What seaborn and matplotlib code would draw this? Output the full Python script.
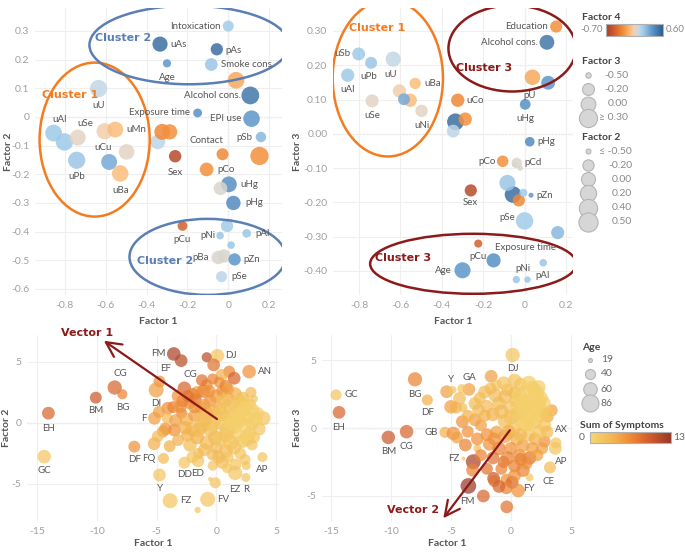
import pandas as pd
import seaborn as sns
import matplotlib.pyplot as plt
from matplotlib.colors import LinearSegmentedColormap
from matplotlib.patches import Ellipse, Rectangle
import numpy as np

# ---------------- data: factor loadings of the variables ----------------
var_names = ['Intoxication', 'uAs', 'pAs', 'Age', 'Smoke cons', 'pU', 'Alcohol cons.', 'Exposure time', 'EPI use', 'uU',
             'uAl', 'uSb', 'uSe', 'uCu', 'uMn', 'uCd', 'uCo', 'uZn', 'pSb', 'Contact',
             'uNi', 'uPb', 'uTl', 'Sex', 'pCo', 'uBa', 'uHg', 'pCd', 'pHg', 'pCu',
             'pMn', 'pNi', 'pAl', 'pSr', 'pBa', 'pTl', 'pZn', 'pSe', 'Education']
var_f1 = [0.0, -0.334, -0.056, -0.30, -0.083, 0.038, 0.108, -0.15, 0.114, -0.635,
          -0.855, -0.802, -0.737, -0.605, -0.553, -0.345, -0.323, -0.287, 0.16, -0.028,
          -0.498, -0.742, -0.583, -0.26, -0.106, -0.529, 0.003, -0.038, 0.025, -0.224,
          -0.006, -0.04, 0.09, 0.014, -0.049, -0.021, 0.031, -0.033, 0.153]
var_f2 = [0.317, 0.254, 0.236, 0.187, 0.183, 0.128, 0.075, 0.014, -0.006, 0.099,
          -0.056, -0.087, -0.072, -0.05, -0.044, -0.087, -0.052, -0.052, -0.07, -0.13,
          -0.122, -0.151, -0.157, -0.137, -0.183, -0.197, -0.235, -0.249, -0.30, -0.38,
          -0.38, -0.414, -0.406, -0.447, -0.49, -0.485, -0.497, -0.557, -0.136]
var_f3 = [-0.254, 0.035, -0.177, -0.398, -0.143, 0.165, 0.267, -0.369, 0.149, 0.218,
          0.171, 0.233, 0.096, 0.125, 0.098, 0.008, 0.098, 0.043, -0.288, -0.194,
          0.067, 0.207, 0.101, -0.165, -0.08, 0.147, 0.086, -0.085, -0.023, -0.32,
          -0.172, -0.425, -0.376, -0.425, -0.09, -0.10, -0.179, -0.25, 0.313]
var_f4 = [0.15, 0.52, 0.52, 0.35, 0.17, -0.22, 0.48, 0.38, 0.35, 0.06,
          0.16, 0.16, -0.02, -0.07, -0.15, 0.07, -0.33, -0.30, 0.22, -0.33,
          -0.02, 0.17, 0.28, -0.62, -0.30, -0.15, 0.38, 0.0, 0.40, -0.50,
          0.15, 0.17, 0.17, 0.17, 0.0, 0.0, 0.35, 0.08, -0.30]

# ---------------- data: patient scores, Factor 1 vs Factor 2 ----------------
bl_ids = ['GC', 'EH', 'BM', 'CG', 'BG', 'DF', 'F', 'FQ', 'Y', 'FZ', 'FV',
          'DD', 'ED', 'EZ', 'R', 'AP', 'AN', 'DJ', 'FM', 'EF', 'DI', 'CG']
bl_f1 = [-14.4, -14.05, -10.08, -8.5, -7.86, -6.86, -5.17, -4.42, -4.75, -3.86, -0.72,
         -2.67, -1.53, 1.58, 2.47, 3.86, 2.75, 0.1, -3.56, -4.75, -5.03, -2.67,
         -1.56, -0.8, -2.94, -0.22, 1.08, 1.5, 0.47, 0.25, 3.17, 3.94,
         2.4, 2.5, -0.08, -0.5, 1.6, -0.3, 0.5, -4.06, -3.6, -2.9,
         -3.0, -2.2, -1.6, -1.06, -0.8, -1.75, -1.3, -4.25, -4.45, -3.5,
         -5.2, -3.9, -4.9, -4.1, -2.5, -2.0, -1.8, -1.2, -0.8, -0.5,
         0.0, 0.5, 1.0, 1.5, 2.0, 2.5, 3.0, 2.8, 2.2, 1.5,
         0.8, 0.0, -0.8, -1.6, -2.4, 0.5, 1.0, 1.5, 2.0, 0.0,
         -0.5, 0.8, 1.8, 2.5, 1.2, 0.3, -0.2, 3.5, 3.2, -1.0,
         -2.8, -0.3, 1.0, 2.8, -1.2, 0.8, 1.6, -2.0, 2.2, -3.2,
         -1.5, 3.6, 1.9, 0.9, 2.3, 1.3, -0.1, 2.6,
         3.0, 3.3, 2.6, 1.2, 0.3, -0.3, -1.0, -1.5, -2.2, 0.6,
         1.9, 2.4, -0.6, -2.4, -3.4, -2.6, 0.2, -1.0, 2.0, 3.0,
         1.0, -0.3, 1.3, 0.4, -1.8, -3.2, 2.9, -4.8, -2.0, 0.9]
bl_f2 = [-2.76, 0.8, 2.07, 2.9, 2.35, -1.94, 0.38, -2.9, -4.26, -6.37, -6.25,
         -3.25, -3.1, -4.1, -4.47, -2.8, 4.2, 5.5, 5.65, 3.39, 2.7, 2.84,
         -7.13, 5.38, 5.1, 4.75, 4.2, 3.66, 3.93, 3.33, 1.97, 0.38,
         -3.0, -3.5, -4.9, -4.6, -3.4, -3.5, -3.2, 1.2, 1.3, 0.8,
         1.35, 1.6, 2.5, 2.6, 3.1, 1.9, 1.3, -0.5, -0.7, -0.58,
         -1.7, -1.9, -1.1, 0.37, 0.3, -0.5, 0.6, -0.2, 0.8, 1.8,
         2.2, 2.6, 2.0, 1.5, 1.0, 0.5, 0.0, -0.8, -1.5, -2.0,
         -2.3, -2.0, -1.6, -1.2, -1.0, 0.0, 0.5, -0.3, 0.2, 0.5,
         -0.5, -1.0, -1.0, -0.2, 1.0, 1.2, 1.0, 0.8, -1.2, 1.5,
         1.8, -2.6, -2.8, 1.5, 3.5, 3.0, 2.4, 2.3, 2.0, -1.4,
         -2.5, -0.5, 0.6, -0.6, 1.6, 0.1, -1.2, -1.1,
         1.0, 0.3, -1.3, -1.6, -1.3, -0.1, 0.3, -0.6, -1.8, 1.8,
         1.8, 1.2, 2.6, 2.2, 0.2, -0.4, -2.8, -2.2, -2.5, -1.8,
         2.8, 3.6, 0.0, 0.8, 1.3, 2.2, 2.5, 0.9, -2.8, -3.7]
bl_sym = [2, 9, 10, 9, 7, 6, 5, 3, 2, 2, 2,
          2, 2, 2, 2, 2, 6, 2, 12, 6, 5, 9,
          2, 11, 11, 8, 7, 9, 4, 6, 2, 2,
          2, 2, 2, 2, 2, 2, 3, 6, 7, 7,
          6, 6, 5, 7, 6, 8, 5, 6, 5, 6,
          4, 4, 3, 3, 4, 3, 5, 3, 4, 6,
          5, 6, 3, 2, 1, 1, 1, 1, 2, 2,
          3, 3, 3, 4, 4, 2, 1, 1, 1, 2,
          3, 2, 1, 1, 2, 3, 4, 1, 2, 5,
          7, 3, 2, 2, 8, 7, 4, 7, 3, 4,
          3, 2, 1, 2, 1, 1, 3, 1,
          1, 1, 1, 2, 2, 2, 3, 3, 3, 3,
          2, 1, 6, 8, 5, 4, 3, 3, 2, 2,
          5, 7, 1, 2, 6, 6, 3, 5, 2, 2]
bl_age = [60, 55, 50, 65, 40, 50, 55, 45, 55, 70, 70,
          50, 55, 65, 35, 40, 60, 60, 60, 50, 70, 60,
          25, 40, 55, 55, 50, 55, 50, 45, 30, 65,
          45, 35, 45, 20, 50, 40, 60, 55, 50, 45,
          55, 50, 55, 60, 50, 55, 50, 55, 50, 55,
          55, 50, 50, 45, 60, 65, 55, 70, 60, 55,
          60, 50, 55, 60, 65, 70, 60, 55, 60, 65,
          60, 55, 65, 60, 55, 70, 75, 70, 65, 65,
          70, 70, 60, 75, 65, 60, 55, 50, 45, 50,
          55, 50, 45, 55, 50, 55, 55, 60, 60, 50,
          45, 55, 70, 75, 70, 80, 65, 70,
          70, 65, 70, 75, 70, 75, 70, 65, 60, 65,
          60, 70, 55, 50, 55, 60, 55, 55, 50, 45,
          50, 45, 80, 75, 55, 55, 45, 50, 50, 40]

# ---------------- data: patient scores, Factor 1 vs Factor 3 ----------------
br_ids = ['GC', 'EH', 'BM', 'CG', 'BG', 'DF', 'Y', 'GA', 'GB', 'FZ',
          'FM', 'FY', 'CE', 'AP', 'AX', 'DJ']
br_f1 = [-14.58, -14.33, -10.22, -8.7, -8.0, -6.97, -5.36, -3.5, -5.5, -3.97,
         -3.55, 1.55, 3.25, 3.7, 3.75, 0.14,
         -4.86, -4.1, -4.28, -5.0, -4.6, -4.0, -4.05, -4.8, -4.5, -3.8,
         -3.6, -2.8, -3.14, -3.2, -2.3, -0.35, -1.45, -1.4, -0.38, 0.1,
         -0.38, 0.6, 1.0, -1.65, -1.2, -2.2, 1.9, 3.4, 3.1, 2.8,
         1.55, 0.7, -0.6, 0.5, 1.0, 1.5, 2.0, 2.5, 1.2, 0.5,
         0.0, -0.5, -1.0, -1.5, -2.0, -0.5, 0.2, 1.0, 2.0, 2.5,
         1.8, 0.8, -0.3, 2.8, 1.5, 0.5, -0.5, -1.2, -2.0, -2.5,
         -3.0, -1.8, -1.0, 0.0, 1.0, 2.0, -2.5, -1.5, 0.3, -0.8,
         2.2, -2.2, -3.0, -2.6, 0.3, 2.2, 3.0, 1.3, -1.7, 1.4,
         2.3, 0.9, 1.7, 2.6,
         1.5, 2.3, 0.3, 2.7, 3.0, 1.0, 1.7, 0.0, -0.8, -1.3,
         -0.2, 0.8, 2.4, 1.8, -1.4, -2.8, -0.3, 0.8, -2.0, -1.0,
         0.3, 2.6, -3.6, -2.7, 0.7, 2.0, -0.6, 1.3]
br_f3 = [2.43, 1.15, -0.69, -0.27, 3.58, 2.06, 2.67, 2.84, -0.32, -2.24,
         -4.26, -3.63, -2.9, -1.5, -1.1, 5.37,
         2.8, 2.9, 2.18, 1.56, 1.5, 1.5, 0.47, -0.4, -0.7, -1.25,
         -0.27, -1.5, -2.48, -3.1, -5.0, -5.8, -3.7, -3.9, -3.8, -4.0,
         -4.4, -4.6, -3.1, 3.8, 3.15, 2.65, 2.85, 1.3, 0.8, -1.0,
         -2.2, -2.0, -2.5, 2.0, 2.5, 2.0, 1.5, 1.0, 1.0, 1.0,
         1.5, 2.3, 1.8, 1.0, 1.6, 0.5, 0.0, 0.3, 0.5, 2.2,
         3.0, 3.2, 2.8, 0.2, -0.5, -0.8, -0.6, -0.3, -0.5, 0.2,
         0.6, -1.2, -1.5, -1.5, -1.3, -0.8, -2.0, -2.2, -2.8, -3.0,
         -2.0, 0.9, 1.8, 2.2, 2.6, 2.6, -0.3, -2.6, 2.9, 1.6,
         1.9, 1.4, 0.4, 1.2,
         3.3, 3.0, 3.5, 1.8, 1.0, 1.8, 1.2, 0.8, 1.2, 2.4,
         -0.3, -0.5, -0.3, -1.5, -0.8, -0.8, -2.2, -2.3, -3.0, -4.3,
         -3.5, -1.5, 0.9, 1.3, 2.4, 2.3, 3.3, 0.3]
br_sym = [2, 9, 10, 9, 7, 4, 5, 5, 4, 2,
          13, 2, 3, 2, 2, 2,
          2, 2, 3, 5, 4, 3, 6, 6, 5, 7,
          6, 3, 12, 7, 9, 8, 10, 8, 6, 9,
          7, 6, 7, 5, 2, 3, 1, 5, 4, 6,
          8, 6, 8, 2, 1, 1, 1, 1, 1, 2,
          2, 3, 3, 4, 3, 3, 2, 1, 1, 1,
          1, 2, 3, 2, 2, 4, 5, 5, 6, 5,
          5, 6, 7, 6, 5, 4, 7, 8, 7, 7,
          5, 4, 3, 3, 3, 1, 3, 6, 3, 1,
          1, 1, 1, 1,
          1, 1, 2, 1, 2, 1, 1, 2, 3, 3,
          4, 3, 2, 5, 6, 6, 7, 7, 8, 9,
          6, 5, 4, 3, 1, 1, 2, 1]
br_age = [45, 55, 60, 60, 65, 45, 55, 55, 45, 19,
          75, 30, 50, 55, 45, 65,
          30, 35, 55, 60, 50, 35, 55, 60, 50, 55,
          50, 30, 70, 55, 55, 55, 55, 50, 50, 55,
          55, 60, 60, 55, 45, 55, 60, 50, 45, 50,
          60, 55, 50, 70, 75, 70, 75, 70, 80, 70,
          65, 60, 60, 60, 55, 65, 70, 70, 70, 65,
          60, 60, 55, 60, 60, 60, 60, 55, 55, 50,
          55, 55, 60, 55, 55, 55, 50, 55, 55, 50,
          50, 50, 55, 50, 55, 65, 55, 50, 50, 75,
          70, 80, 70, 65,
          70, 65, 60, 70, 60, 80, 80, 70, 65, 60,
          65, 60, 60, 55, 55, 55, 60, 55, 50, 55,
          55, 50, 50, 55, 75, 75, 60, 75]

# vectors drawn on the score plots (start, end)
vector1 = [(0.25, 0.19), (-9.6, 6.86)]
vector2 = [(0.05, 0.0), (-5.78, -6.8)]

# ---------------- style ----------------
sns.set_theme(style="white")
plt.rcParams['font.family'] = ['Lato', 'DejaVu Sans']
plt.rcParams['axes.unicode_minus'] = False

f4_cmap = LinearSegmentedColormap.from_list('f4', [
    (0.0, '#a3402a'), (0.115, '#c9552b'), (0.23, '#e8772e'), (0.323, '#f5963f'),
    (0.423, '#fbbd7c'), (0.5, '#efd3b5'), (0.538, '#d9d5cf'), (0.577, '#c5d8e6'),
    (0.654, '#a2cce9'), (0.808, '#5d97cb'), (1.0, '#2c5d8f')])
sym_cmap = LinearSegmentedColormap.from_list('sym', [
    (0.0, '#f5d874'), (0.3, '#f3b24f'), (0.5, '#ef8a35'), (0.72, '#d3602d'), (1.0, '#9a3826')])

LABEL_C = '#555555'
TICK_C = '#a0a0a0'
DARKRED = '#8b1a1a'
ORANGE = '#f47c20'
BLUE = '#5b7fb5'
NARROW = ['Liberation Sans Narrow', 'DejaVu Sans']

W, H = 685, 553
fig = plt.figure(figsize=(W / 100, H / 100), dpi=100)


def frac(l, t, r, b):
    return [l / W, 1 - b / H, (r - l) / W, (b - t) / H]


def style_axes(ax, box, xlim, ylim, xticks, xlabels, yticks, ylabels, xlab, ylab, xlab_top, ylab_right):
    l, t, r, b = box
    ax.set_xlim(xlim)
    ax.set_ylim(ylim)
    ax.set_xticks(xticks)
    ax.set_xticklabels(xlabels)
    ax.set_yticks(yticks)
    ax.set_yticklabels(ylabels)
    for s in ax.spines.values():
        s.set_visible(False)
    ax.grid(True, color='#efefef', lw=0.8)
    ax.set_axisbelow(True)
    ax.axhline(0, color='#c4c4c4', ls=':', lw=0.9, zorder=0.5)
    ax.axvline(0, color='#c4c4c4', ls=':', lw=0.9, zorder=0.5)
    ax.tick_params(length=0, labelsize=7.5, labelcolor=TICK_C, pad=4)
    ax.set_xlabel(xlab, fontsize=7.5, color=LABEL_C, fontweight='bold')
    ax.set_ylabel(ylab, fontsize=7.5, color=LABEL_C, fontweight='bold')
    # place axis titles at the reference pixel positions
    ax.xaxis.set_label_coords(0.5, -(xlab_top - b) / (b - t))
    ax.yaxis.set_label_coords(-(l - ylab_right) / (r - l), 0.5)
    ax.set_facecolor('none')


def put_labels(ax, names, xs, ys, offsets):
    for name, (dx, dy, ha) in offsets.items():
        i = names.index(name)
        ax.annotate(name, (xs[i], ys[i]), xytext=(dx, dy), textcoords='offset pixels',
                    ha=ha, va='center', fontsize=7, color=LABEL_C)


def put_labels_list(ax, ids, xs, ys, offsets):
    for i, (name, (dx, dy, ha)) in enumerate(zip(ids, offsets)):
        ax.annotate(name, (xs[i], ys[i]), xytext=(dx, dy), textcoords='offset pixels',
                    ha=ha, va='center', fontsize=7, color=LABEL_C)


var_df = pd.DataFrame({'name': var_names, 'f1': var_f1, 'f2': var_f2, 'f3': var_f3, 'f4': var_f4})
bl_df = pd.DataFrame({'f1': bl_f1, 'f2': bl_f2, 'sym': bl_sym, 'age': bl_age})
br_df = pd.DataFrame({'f1': br_f1, 'f3': br_f3, 'sym': br_sym, 'age': br_age})

xt_small = [-0.8, -0.6, -0.4, -0.2, 0, 0.2]
xt_small_lab = ['-0.8', '-0.6', '-0.4', '-0.2', '0', '0.2']

# ---------------- top left: Factor 1 vs Factor 2 ----------------
box_tl = (35, 8, 282, 295)
ax_tl = fig.add_axes(frac(*box_tl))
sns.scatterplot(data=var_df, x='f1', y='f2', hue='f4', size='f3', palette=f4_cmap,
                hue_norm=(-0.7, 0.6), sizes=(15, 175), size_norm=(-0.5, 0.32),
                alpha=0.85, linewidth=0, legend=False, ax=ax_tl)
yt = [-0.6, -0.5, -0.4, -0.3, -0.2, -0.1, 0, 0.1, 0.2, 0.3]
style_axes(ax_tl, box_tl, (-0.946, 0.263), (-0.621, 0.38), xt_small, xt_small_lab,
           yt, ['-0.6', '-0.5', '-0.4', '-0.3', '-0.2', '-0.1', '0', '0.1', '0.2', '0.3'],
           'Factor 1', 'Factor 2', 317, 13)
tl_labels = {'Intoxication': (-8, 0, 'right'), 'uAs': (10, 0, 'left'), 'pAs': (9, -1, 'left'),
             'Age': (0, -14, 'center'), 'Smoke cons': (10, 0, 'left'), 'Alcohol cons.': (-9, 0, 'right'),
             'Exposure time': (-8, 0, 'right'), 'EPI use': (-10, 0, 'right'), 'uU': (0, -17, 'center'),
             'uAl': (6, 14, 'center'), 'uSe': (8, 14, 'center'), 'uCu': (-2, -16, 'center'),
             'uMn': (11, 0, 'left'), 'pSb': (-9, 0, 'right'), 'Contact': (-16, 14, 'center'),
             'Sex': (0, -16, 'center'), 'pCo': (11, 0, 'left'), 'uPb': (0, -16, 'center'),
             'uBa': (0, -17, 'center'), 'uHg': (11, 0, 'left'), 'pHg': (12, 0, 'left'),
             'pCu': (0, -14, 'center'), 'pNi': (-5, 0, 'right'), 'pAl': (9, 0, 'left'),
             'pBa': (-9, 0, 'right'), 'pZn': (9, 0, 'left'), 'pSe': (10, 0, 'left')}
put_labels(ax_tl, var_names, var_f1, var_f2, tl_labels)
ax_tl.add_patch(Ellipse((-0.654, -0.079), 0.539, 0.537, fill=False, ec=ORANGE, lw=1.8))
ax_tl.add_patch(Ellipse((-0.191, 0.251), 0.977, 0.274, fill=False, ec=BLUE, lw=1.8))
ax_tl.add_patch(Ellipse((-0.101, -0.488), 0.765, 0.265, fill=False, ec=BLUE, lw=1.8))
ax_tl.text(-0.776, 0.076, 'Cluster 1', color=ORANGE, fontsize=8, fontweight='bold', ha='center', va='center', family=NARROW)
ax_tl.text(-0.515, 0.277, 'Cluster 2', color=BLUE, fontsize=8, fontweight='bold', ha='center', va='center', family=NARROW)
ax_tl.text(-0.307, -0.502, 'Cluster 2', color=BLUE, fontsize=8, fontweight='bold', ha='center', va='center', family=NARROW)

# ---------------- top right: Factor 1 vs Factor 3 ----------------
box_tr = (333, 8, 573, 295)
ax_tr = fig.add_axes(frac(*box_tr))
sns.scatterplot(data=var_df, x='f1', y='f3', hue='f4', size='f2', palette=f4_cmap,
                hue_norm=(-0.7, 0.6), sizes=(2, 190), size_norm=(-0.56, 0.5),
                alpha=0.85, linewidth=0, legend=False, ax=ax_tr)
yt3 = [-0.4, -0.3, -0.2, -0.1, 0, 0.1, 0.2, 0.3]
style_axes(ax_tr, box_tr, (-0.926, 0.234), (-0.47, 0.367), xt_small, xt_small_lab,
           yt3, ['-0.40', '-0.30', '-0.20', '-0.10', '0.00', '0.10', '0.20', '0.30'],
           'Factor 1', 'Factor 3', 317, 302)
tr_labels = {'Education': (-8, 0, 'right'), 'Alcohol cons.': (-9, 0, 'right'), 'uSb': (-8, 0, 'right'),
             'uPb': (-2, -14, 'center'), 'uU': (-3, -15, 'center'), 'uAl': (0, -14, 'center'),
             'uBa': (9, 0, 'left'), 'pU': (-3, -18, 'center'), 'uSe': (0, -15, 'center'),
             'uCo': (9, 0, 'left'), 'uNi': (0, -15, 'center'), 'uHg': (0, -14, 'center'),
             'pHg': (8, 0, 'left'), 'pCo': (-7, 0, 'right'), 'pCd': (8, 0, 'left'),
             'Sex': (0, -12, 'center'), 'pZn': (5, 0, 'left'), 'pSe': (-3, 2, 'right'),
             'pCu': (0, -13, 'center'), 'Exposure time': (1, 13, 'left'), 'Age': (-11, 0, 'right'),
             'pNi': (7, 11, 'center'), 'pAl': (-1, -13, 'center')}
put_labels(ax_tr, var_names, var_f1, var_f3, tr_labels)
ax_tr.add_patch(Ellipse((-0.661, 0.162), 0.533, 0.456, fill=False, ec=ORANGE, lw=1.8))
ax_tr.add_patch(Ellipse((-0.06, 0.249), 0.616, 0.251, fill=False, ec=DARKRED, lw=1.8))
ax_tr.add_patch(Ellipse((-0.248, -0.379), 0.997, 0.175, fill=False, ec=DARKRED, lw=1.8))
ax_tr.text(-0.713, 0.31, 'Cluster 1', color=ORANGE, fontsize=8, fontweight='bold', ha='center', va='center', family=NARROW)
ax_tr.text(-0.198, 0.193, 'Cluster 3', color=DARKRED, fontsize=8, fontweight='bold', ha='center', va='center', family=NARROW)
ax_tr.text(-0.588, -0.362, 'Cluster 3', color=DARKRED, fontsize=8, fontweight='bold', ha='center', va='center', family=NARROW)

# ---------------- bottom left: patient scores F1 vs F2 ----------------
box_bl = (27, 335, 279, 521)
ax_bl = fig.add_axes(frac(*box_bl))
sns.scatterplot(data=bl_df, x='f1', y='f2', hue='sym', size='age', palette=sym_cmap,
                hue_norm=(0, 13), sizes=(8, 150), size_norm=(19, 86),
                alpha=0.72, linewidth=0, legend=False, ax=ax_bl)
style_axes(ax_bl, box_bl, (-15.84, 5.25), (-8.03, 7.2), [-15, -10, -5, 0, 5], ['-15', '-10', '-5', '0', '5'],
           [-5, 0, 5], ['-5', '0', '5'], 'Factor 1', 'Factor 2', 539, 11)
bl_offsets = [(0, -14, 'center'), (0, -15, 'center'), (0, -13, 'center'), (6, 14, 'center'),
              (0, -13, 'center'), (0, -13, 'center'), (-8, 0, 'right'), (-8, 0, 'right'),
              (0, -14, 'center'), (10, 0, 'left'), (9, 0, 'left'), (0, -12, 'center'),
              (0, -13, 'center'), (0, -16, 'center'), (0, -12, 'center'), (0, -12, 'center'),
              (9, 0, 'left'), (8, 0, 'left'), (-8, 0, 'right'), (6, 13, 'center'),
              (0, -14, 'center'), (6, 14, 'center')]
put_labels_list(ax_bl, bl_ids, bl_f1, bl_f2, bl_offsets)
ax_bl.annotate('', xy=vector1[1], xytext=vector1[0],
               arrowprops=dict(arrowstyle='->,head_length=0.9,head_width=0.45', color=DARKRED, lw=1.6))
ax_bl.text(-10.8, 7.35, 'Vector 1', color=DARKRED, fontsize=8, fontweight='bold', ha='center', va='center', family=NARROW)

# ---------------- bottom right: patient scores F1 vs F3 ----------------
box_br = (322, 335, 573, 521)
ax_br = fig.add_axes(frac(*box_br))
sns.scatterplot(data=br_df, x='f1', y='f3', hue='sym', size='age', palette=sym_cmap,
                hue_norm=(0, 13), sizes=(8, 150), size_norm=(19, 86),
                alpha=0.72, linewidth=0, legend=False, ax=ax_br)
style_axes(ax_br, box_br, (-15.75, 5.17), (-6.84, 6.84), [-15, -10, -5, 0, 5], ['-15', '-10', '-5', '0', '5'],
           [-5, 0, 5], ['-5', '0', '5'], 'Factor 1', 'Factor 3', 539, 302)
br_offsets = [(8, 0, 'left'), (0, -15, 'center'), (0, -14, 'center'), (0, -15, 'center'),
              (0, -15, 'center'), (0, -13, 'center'), (4, 12, 'center'), (0, 12, 'center'),
              (-7, 0, 'right'), (-4, 0, 'right'), (-1, -16, 'center'), (-1, -11, 'center'),
              (-1, -14, 'center'), (6, -13, 'center'), (6, 13, 'center'), (0, -14, 'center')]
put_labels_list(ax_br, br_ids, br_f1, br_f3, br_offsets)
ax_br.annotate('', xy=vector2[1], xytext=vector2[0],
               arrowprops=dict(arrowstyle='->,head_length=0.9,head_width=0.45', color=DARKRED, lw=1.6))
ax_br.text(-8.15, -6.03, 'Vector 2', color=DARKRED, fontsize=8, fontweight='bold', ha='center', va='center', family=NARROW)

# ---------------- hand drawn legends on the right ----------------
lg = fig.add_axes([0, 0, 1, 1])
lg.set_axis_off()
TITLE_C = '#444444'
NUM_C = '#8a8a8a'
grad = np.linspace(0, 1, 256).reshape(1, -1)

lg.text(582, 17, 'Factor 4', fontsize=7.5, fontweight='bold', color=TITLE_C, va='center')
lg.imshow(grad, extent=(606, 663, 36, 24), aspect='auto', cmap=f4_cmap)
lg.add_patch(Rectangle((606, 24), 57, 12, fill=False, ec='#b0b0b0', lw=0.8))
lg.text(603, 30, '-0.70', fontsize=7, color=NUM_C, ha='right', va='center')
lg.text(666, 30, '0.60', fontsize=7, color=NUM_C, ha='left', va='center')

lg.text(582, 62, 'Factor 3', fontsize=7.5, fontweight='bold', color=TITLE_C, va='center')
for yy, v, t in zip([75, 89, 104, 118], [-0.5, -0.2, 0.0, 0.3], ['-0.50', '-0.20', '0.00', '≥ 0.30']):
    lg.scatter(588, yy, s=15 + (v + 0.5) / 0.82 * 160, color='#d6d6d6', ec='#b5b5b5', lw=0.8)
    lg.text(628, yy, t, fontsize=7.5, color=NUM_C, ha='right', va='center')

lg.text(582, 138, 'Factor 2', fontsize=7.5, fontweight='bold', color=TITLE_C, va='center')
for yy, v, t in zip([151, 165, 179, 193, 208, 222], [-0.5, -0.2, 0.0, 0.2, 0.4, 0.5],
                    ['≤ -0.50', '-0.20', '0.00', '0.20', '0.40', '0.50']):
    lg.scatter(588, yy, s=2 + (v + 0.56) / 1.06 * 188, color='#d6d6d6', ec='#b5b5b5', lw=0.8)
    lg.text(632, yy, t, fontsize=7.5, color=NUM_C, ha='right', va='center')

lg.text(582, 347, 'Age', fontsize=7.5, fontweight='bold', color=TITLE_C, va='center')
for yy, a in zip([360, 374, 389, 403], [19, 40, 60, 86]):
    lg.scatter(590, yy, s=8 + (a - 19) / 67 * 142, color='#d6d6d6', ec='#b5b5b5', lw=0.8)
    lg.text(601, yy, str(a), fontsize=7.5, color='#666666', ha='left', va='center')

lg.text(580, 425, 'Sum of Symptoms', fontsize=7.5, fontweight='bold', color=TITLE_C, va='center')
lg.imshow(grad, extent=(590, 671, 443, 432), aspect='auto', cmap=sym_cmap)
lg.add_patch(Rectangle((590, 432), 81, 11, fill=False, ec='#b0b0b0', lw=0.8))
lg.text(585, 438, '0', fontsize=7.5, color='#666666', ha='right', va='center')
lg.text(673, 438, '13', fontsize=7.5, color='#666666', ha='left', va='center')
lg.set_xlim(0, W)
lg.set_ylim(H, 0)

plt.savefig('out.png', dpi=100)
